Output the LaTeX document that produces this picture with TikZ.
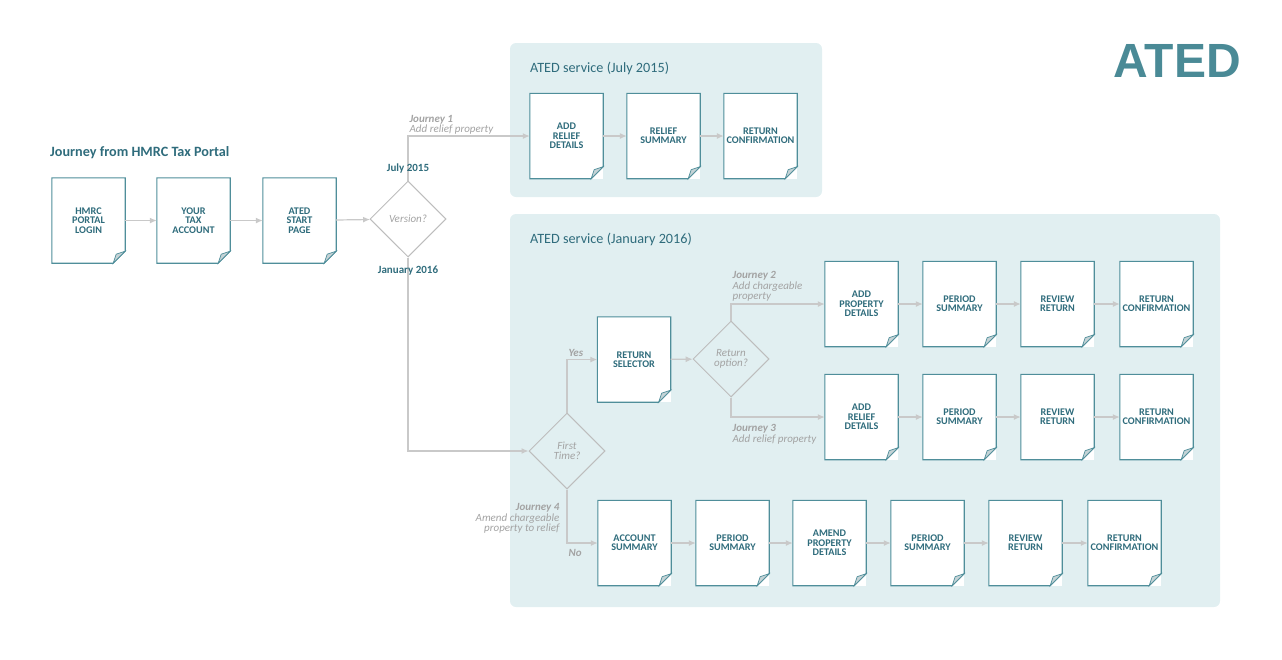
\documentclass[tikz,border=0pt]{standalone}
\usepackage{fontspec}
\setmainfont{Carlito}
\newfontfamily\logofont{Liberation Sans}
\usetikzlibrary{arrows.meta,shapes.geometric,positioning}
\definecolor{tealtext}{HTML}{2F6C7C}
\definecolor{tealedge}{HTML}{4F8E9A}
\definecolor{tealogo}{HTML}{4A8A96}
\definecolor{panelbg}{HTML}{E1EFF1}
\definecolor{foldgray}{HTML}{C5D3D6}
\definecolor{conngray}{HTML}{C9C9C9}
\definecolor{diagray}{HTML}{BDBDBD}
\definecolor{labelgray}{HTML}{A3A3A3}
\tikzset{
  page/.style={rectangle, minimum width=73pt, minimum height=85pt, fill=white,
               inner sep=1pt, align=center, text=tealtext,
               font=\fontsize{10.2}{9.3}\selectfont\bfseries},
  outline/.style={draw=tealedge, line width=1.1pt, line join=miter},
  fold/.style={fill=foldgray, draw=tealedge, line width=0.7pt},
  choice/.style={diamond, aspect=1, minimum size=76pt, inner sep=0pt,
                 draw=diagray, line width=1pt, align=center, text=labelgray,
                 font=\fontsize{11}{10}\selectfont\itshape},
  conn/.style={draw=conngray, line width=1.2pt, -{Latex[length=7pt,width=6pt]}},
  journey/.style={inner sep=1pt, align=left, text=labelgray,
                  font=\fontsize{11}{10.5}\selectfont\itshape},
  datelabel/.style={inner sep=1pt, text=tealtext, font=\fontsize{11}{11}\selectfont\bfseries},
  panel/.style={fill=panelbg, rounded corners=6pt},
  heading/.style={anchor=west, inner sep=0pt, text=tealtext}
}

\begin{document}
\begin{tikzpicture}[x=1pt, y=-1pt]
\useasboundingbox (0,0) rectangle (1282,659);

% --- Service panels
\fill[panel] (510,43) rectangle (822,197);
\fill[panel] (510,214) rectangle (1220,607);

% --- Headings
\node[heading, font=\fontsize{14.2}{14}\selectfont\bfseries] (portal) at (50,153) {Journey from HMRC Tax Portal};
\node[heading, font=\fontsize{14.2}{14}\selectfont] (title2015) at (530,68) {ATED service (July 2015)};
\node[heading, font=\fontsize{14.2}{14}\selectfont] (title2016) at (530,239) {ATED service (January 2016)};
\node[anchor=east, inner sep=0pt, text=tealogo, font=\logofont\bfseries\fontsize{48}{48}\selectfont] (logo) at (1241,61) {ATED};

% --- Tax portal pages
\node[page] (login) at (88.5,220.5) {HMRC\\PORTAL\\LOGIN};
\node[page] (account) at (193.5,220.5) {YOUR\\TAX\\ACCOUNT};
\node[page] (start) at (299.5,220.5) {ATED\\START\\PAGE};
\node[choice] (version) at (408,219) {Version?};

% --- July 2015 service
\node[page] (relief1) at (566.5,136) {ADD\\RELIEF\\DETAILS};
\node[page] (rsum1) at (663.5,136) {RELIEF\\SUMMARY};
\node[page] (conf1) at (760.5,136) {RETURN\\CONFIRMATION};

% --- January 2016 service
\node[choice] (first) at (567,451) {First\\Time?};
\node[page] (selector) at (634,359.5) {RETURN\\SELECTOR};
\node[choice] (option) at (731,359) {Return\\option?};

\node[page] (prop2) at (861.5,304) {ADD\\PROPERTY\\DETAILS};
\node[page] (psum2) at (959.5,304) {PERIOD\\SUMMARY};
\node[page] (review2) at (1057.5,304) {REVIEW\\RETURN};
\node[page] (conf2) at (1156.5,304) {RETURN\\CONFIRMATION};

\node[page] (relief3) at (861.5,417) {ADD\\RELIEF\\DETAILS};
\node[page] (psum3) at (959.5,417) {PERIOD\\SUMMARY};
\node[page] (review3) at (1057.5,417) {REVIEW\\RETURN};
\node[page] (conf3) at (1156.5,417) {RETURN\\CONFIRMATION};

\node[page] (acsum4) at (634.5,543) {ACCOUNT\\SUMMARY};
\node[page] (psum4) at (732.5,543) {PERIOD\\SUMMARY};
\node[page] (amend4) at (829.5,543) {AMEND\\PROPERTY\\DETAILS};
\node[page] (psum4b) at (927.5,543) {PERIOD\\SUMMARY};
\node[page] (review4) at (1025.5,543) {REVIEW\\RETURN};
\node[page] (conf4) at (1124.5,543) {RETURN\\CONFIRMATION};

% --- Page outlines with folded corner
\foreach \n in {login,account,start,relief1,rsum1,conf1,selector,
                prop2,psum2,review2,conf2,relief3,psum3,review3,conf3,
                acsum4,psum4,amend4,psum4b,review4,conf4} {
  \draw[outline] (\n.north west) -- (\n.north east) -- ([yshift=12pt]\n.south east)
        -- ([xshift=-12pt]\n.south east) -- (\n.south west) -- cycle;
  \filldraw[fold] ([yshift=12pt]\n.south east) -- ([xshift=-12pt]\n.south east)
        .. controls ([xshift=-10pt,yshift=6pt]\n.south east) .. ([xshift=-9pt,yshift=9pt]\n.south east) -- cycle;
}

% --- Straight runs
\foreach \a/\b in {login/account,account/start,start/version,
                   relief1/rsum1,rsum1/conf1,selector/option,
                   prop2/psum2,psum2/review2,review2/conf2,
                   relief3/psum3,psum3/review3,review3/conf3,
                   acsum4/psum4,psum4/amend4,amend4/psum4b,psum4b/review4,review4/conf4}
  \draw[conn] (\a) -- (\b);

% --- Branches
\draw[conn] (version.north) |- node[journey, above right] {\textbf{Journey 1}\\Add relief property} (relief1.west);
\draw[conn] (version.south) |- (first.west);
\draw[conn] (first.north) |- node[journey, above right, yshift=1pt] {\textbf{Yes}} (selector.west);
\draw[conn] (first.south) |- node[journey, below right, yshift=-5pt] {\textbf{No}}
      node[journey, pos=0.26, left, xshift=-6pt, yshift=-1pt, align=right] {\textbf{Journey 4}\\Amend chargeable\\property to relief} (acsum4.west);
\draw[conn] (option.north) |- node[journey, above right, yshift=1pt] {\textbf{Journey 2}\\Add chargeable\\property} (prop2.west);
\draw[conn] (option.south) |- node[journey, below right, yshift=-6pt] {\textbf{Journey 3}\\Add relief property} (relief3.west);

% --- Version dates
\node[datelabel, above=6pt of version] (july) {July 2015};
\node[datelabel, below=7pt of version] (january) {January 2016};

\end{tikzpicture}
\end{document}
